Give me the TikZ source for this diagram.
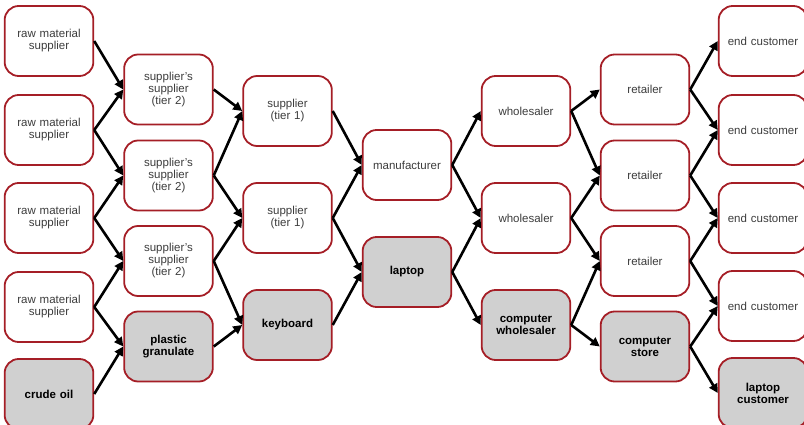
\documentclass[tikz,border=0pt]{standalone}
\usepackage{fontspec}
\setmainfont{Liberation Sans}
\definecolor{BoxRed}{RGB}{165, 30, 38}
\definecolor{BoxGrey}{RGB}{208, 208, 208}
\definecolor{TextGrey}{RGB}{60, 60, 60}
\usetikzlibrary{arrows.meta}

\begin{document}
\begin{tikzpicture}[x=1pt, y=-1pt, >={Triangle[length=9pt, width=9pt]},
    stage/.style={draw=BoxRed, line width=1.8pt, rounded corners=14pt, minimum width=87pt, minimum height=70pt, text width=82pt, align=center, text=TextGrey, font=\fontsize{11.5}{12}\selectfont},
    keystage/.style={stage, fill=BoxGrey, text=black, font=\fontsize{11.5}{12}\selectfont\bfseries},
    link/.style={->, line width=2.6pt}]
    \useasboundingbox (0,0) rectangle (804,425);
    % Raw materials
    \node[stage] (raw1) at (49,41) {raw material\\ supplier};
    \node[stage] (raw2) at (49,130) {raw material\\ supplier};
    \node[stage] (raw3) at (49,218) {raw material\\ supplier};
    \node[stage] (raw4) at (49,307) {raw material\\ supplier};
    \node[keystage] (oil) at (49,394) {crude oil};
    % Tier 2 suppliers
    \node[stage] (ss1) at (168.5,89.5) {supplier's\\ supplier\\ (tier 2)};
    \node[stage] (ss2) at (168.5,175.5) {supplier's\\ supplier\\ (tier 2)};
    \node[stage] (ss3) at (168.5,261) {supplier's\\ supplier\\ (tier 2)};
    \node[keystage] (plastic) at (168.5,346.5) {plastic\\ granulate};
    % Tier 1 suppliers
    \node[stage] (sup1) at (287.5,111) {supplier\\ (tier 1)};
    \node[stage] (sup2) at (287.5,218) {supplier\\ (tier 1)};
    \node[keystage] (kbd) at (287.5,325) {keyboard};
    % Manufacturer
    \node[stage] (manu) at (407,165) {manufacturer};
    \node[keystage] (laptop) at (407,272) {laptop};
    % Wholesalers
    \node[stage] (whs1) at (526,111) {wholesaler};
    \node[stage] (whs2) at (526,218) {wholesaler};
    \node[keystage] (cwhs) at (526,325) {computer\\ wholesaler};
    % Retailers
    \node[stage] (ret1) at (645,89.5) {retailer};
    \node[stage] (ret2) at (645,175.5) {retailer};
    \node[stage] (ret3) at (645,261) {retailer};
    \node[keystage] (store) at (645,346.5) {computer\\ store};
    % Customers
    \node[stage] (end1) at (763,41) {end customer};
    \node[stage] (end2) at (763,130) {end customer};
    \node[stage] (end3) at (763,218) {end customer};
    \node[stage] (end4) at (763,306) {end customer};
    \node[keystage] (lcust) at (763,393) {laptop\\ customer};
    % Upstream links
    \draw[link] (raw1.east) -- (ss1.west);
    \draw[link] (raw2.east) -- (ss1.west);
    \draw[link] (raw2.east) -- (ss2.west);
    \draw[link] (raw3.east) -- (ss2.west);
    \draw[link] (raw3.east) -- (ss3.west);
    \draw[link] (raw4.east) -- (ss3.west);
    \draw[link] (raw4.east) -- (plastic.west);
    \draw[link] (oil.east) -- (plastic.west);
    \draw[link] (ss1.east) -- (sup1.west);
    \draw[link] (ss2.east) -- (sup1.west);
    \draw[link] (ss2.east) -- (sup2.west);
    \draw[link] (ss3.east) -- (sup2.west);
    \draw[link] (ss3.east) -- (kbd.west);
    \draw[link] (plastic.east) -- (kbd.west);
    \draw[link] (sup1.east) -- (manu.west);
    \draw[link] (sup2.east) -- (manu.west);
    \draw[link] (sup2.east) -- (laptop.west);
    \draw[link] (kbd.east) -- (laptop.west);
    % Downstream links
    \draw[link] (manu.east) -- (whs1.west);
    \draw[link] (manu.east) -- (whs2.west);
    \draw[link] (laptop.east) -- (whs2.west);
    \draw[link] (laptop.east) -- (cwhs.west);
    \draw[link] (whs1.east) -- (ret1.west);
    \draw[link] (whs1.east) -- (ret2.west);
    \draw[link] (whs2.east) -- (ret2.west);
    \draw[link] (whs2.east) -- (ret3.west);
    \draw[link] (cwhs.east) -- (ret3.west);
    \draw[link] (cwhs.east) -- (store.west);
    \draw[link] (ret1.east) -- (end1.west);
    \draw[link] (ret1.east) -- (end2.west);
    \draw[link] (ret2.east) -- (end2.west);
    \draw[link] (ret2.east) -- (end3.west);
    \draw[link] (ret3.east) -- (end3.west);
    \draw[link] (ret3.east) -- (end4.west);
    \draw[link] (store.east) -- (end4.west);
    \draw[link] (store.east) -- (lcust.west);
\end{tikzpicture}
\end{document}
